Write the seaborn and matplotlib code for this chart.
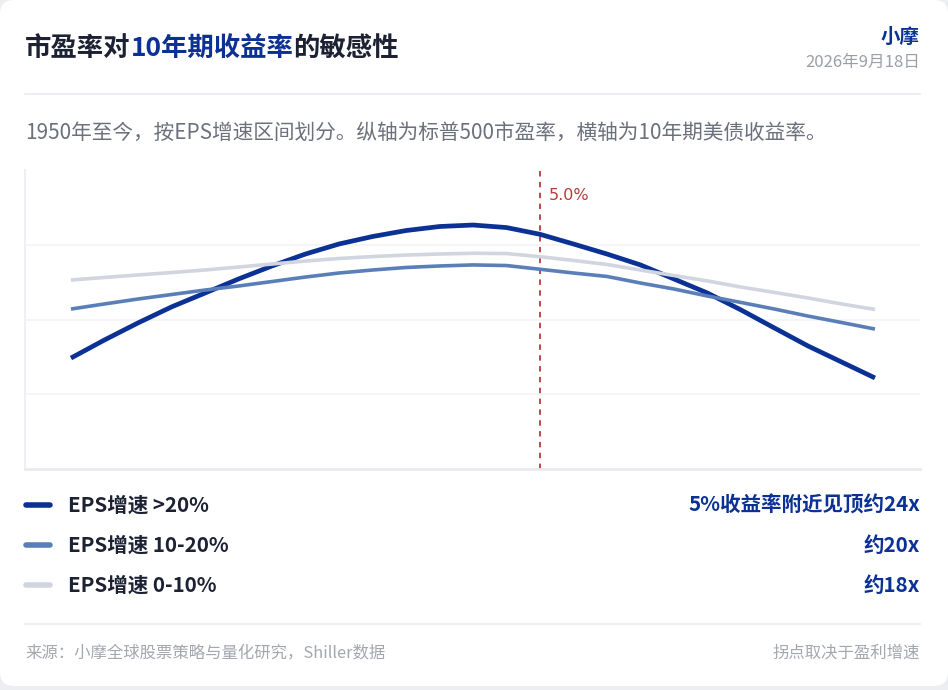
import matplotlib
matplotlib.use("Agg")
import matplotlib.pyplot as plt
import seaborn as sns
import pandas as pd
from matplotlib.patches import FancyBboxPatch
from matplotlib.lines import Line2D

sns.set_theme(style="white")
plt.rcParams["font.family"] = ["Noto Sans CJK SC", "DejaVu Sans"]

# 10年期美债收益率 (%)
yields = [1.5, 1.75, 2.0, 2.25, 2.5, 2.75, 3.0, 3.25, 3.5, 3.75, 4.0, 4.25, 4.5,
          4.75, 5.0, 5.25, 5.5, 5.75, 6.0, 6.25, 6.5, 6.75, 7.0, 7.25, 7.5]
# 标普500市盈率 by EPS growth bucket
pe_high = [12.42, 13.63, 14.77, 15.84, 16.77, 17.71, 18.58, 19.38, 20.05, 20.55,
           20.95, 21.22, 21.32, 21.15, 20.70, 20.05, 19.38, 18.65, 17.71, 16.77,
           15.64, 14.43, 13.23, 12.16, 11.09]
pe_mid = [15.70, 16.04, 16.37, 16.67, 16.97, 17.24, 17.54, 17.84, 18.11, 18.31,
          18.48, 18.58, 18.65, 18.61, 18.36, 18.11, 17.88, 17.44, 17.04, 16.57,
          16.14, 15.70, 15.23, 14.80, 14.36]
pe_low = [17.64, 17.81, 17.98, 18.14, 18.31, 18.51, 18.71, 18.91, 19.08, 19.21,
          19.31, 19.38, 19.43, 19.41, 19.20, 18.95, 18.68, 18.31, 17.94, 17.58,
          17.17, 16.81, 16.44, 16.04, 15.67]

series_labels = ["EPS增速 >20%", "EPS增速 10-20%", "EPS增速 0-10%"]
series_notes = ["5%收益率附近见顶约24x", "约20x", "约18x"]
peak_yield = 5.0

colors = ["#0b3194", "#5a7fb8", "#d0d5e0"]
widths = [3.4, 2.6, 2.6]
NAVY = "#0b3194"
INK = "#1c2133"

df = pd.DataFrame({
    "yield": yields * 3,
    "pe": pe_high + pe_mid + pe_low,
    "group": [series_labels[0]] * len(yields) + [series_labels[1]] * len(yields)
    + [series_labels[2]] * len(yields),
})

W, H = 948, 690
fig = plt.figure(figsize=(W / 100, H / 100), dpi=100)
fig.patch.set_facecolor("#eceef2")
card = FancyBboxPatch((0, 4), W, H - 4, boxstyle="round,pad=0,rounding_size=14",
                      transform=None, facecolor="white", edgecolor="none", zorder=0)
fig.add_artist(card)

ax = fig.add_axes([25 / W, (H - 469) / H, (920 - 25) / W, (469 - 170) / H])
ax.set_facecolor("white")

for lab, col, lw in zip(series_labels, colors, widths):
    sns.lineplot(data=df[df["group"] == lab], x="yield", y="pe", color=col,
                 linewidth=lw, ax=ax, legend=False, solid_capstyle="butt",
                 solid_joinstyle="round")

ax.axvline(peak_yield, color="#b83a3a", linestyle=(0, (3, 3)), linewidth=1.3, zorder=1)
ax.annotate(f"{peak_yield:.1f}%", xy=(peak_yield, 1), xycoords=("data", "axes fraction"),
            xytext=(6, -24), textcoords="offset points", color="#b83a3a",
            fontsize=11.5, ha="left", va="bottom", family=["DejaVu Sans"])

ax.set_xlim(1.157, 7.836)
ax.set_ylim(5, 25)
ax.set_yticks([10, 15, 20])
ax.set_xticks([])
ax.yaxis.grid(True, color="#f2f3f6", linewidth=1.2)
ax.tick_params(left=False, bottom=False, labelleft=False, labelbottom=False)
ax.set_xlabel("")
ax.set_ylabel("")
for s in ["top", "right"]:
    ax.spines[s].set_visible(False)
ax.spines["left"].set_color("#eef0f3")
ax.spines["left"].set_linewidth(1.5)
ax.spines["bottom"].set_color("#e8eaee")
ax.spines["bottom"].set_linewidth(2)


def fy(py):
    return 1 - py / H


# title in three colour pieces
fig.canvas.draw()
r = fig.canvas.get_renderer()
x = 25
for part, col in [("市盈率对", INK), ("10年期收益率", NAVY), ("的敏感性", INK)]:
    t = fig.text(x / W, fy(48), part, color=col, fontsize=19, fontweight="bold",
                 ha="left", va="center")
    x += t.get_window_extent(r).width

fig.text(920 / W, fy(37), "小摩", color=NAVY, fontsize=14, fontweight="bold",
         ha="right", va="center")
fig.text(920 / W, fy(62), "2026年9月18日", color="#9a9fa8", fontsize=12,
         ha="right", va="center")
fig.add_artist(Line2D([25 / W, 920 / W], [fy(94), fy(94)], color="#eceef1", lw=1.5))

fig.text(25 / W, fy(133), "1950年至今，按EPS增速区间划分。纵轴为标普500市盈率，横轴为10年期美债收益率。",
         color="#6b707a", fontsize=14.9, ha="left", va="center")

rows = [505, 545, 585]
for py, lab, note, col in zip(rows, series_labels, series_notes, colors):
    fig.add_artist(Line2D([26 / W, 50 / W], [fy(py), fy(py)], color=col, lw=4,
                          solid_capstyle="round"))
    fig.text(68 / W, fy(py), lab, color=INK, fontsize=14.8, fontweight="bold",
             ha="left", va="center")
    fig.text(920 / W, fy(py), note, color=NAVY, fontsize=14.8, fontweight="bold",
             ha="right", va="center")

fig.add_artist(Line2D([25 / W, 920 / W], [fy(624), fy(624)], color="#eceef1", lw=1.5))
fig.text(25 / W, fy(653), "来源：小摩全球股票策略与量化研究，Shiller数据", color="#a3a7ae",
         fontsize=11.8, ha="left", va="center")
fig.text(920 / W, fy(653), "拐点取决于盈利增速", color="#a3a7ae", fontsize=11.8,
         ha="right", va="center")

fig.savefig("out.png", dpi=100, facecolor=fig.get_facecolor())
